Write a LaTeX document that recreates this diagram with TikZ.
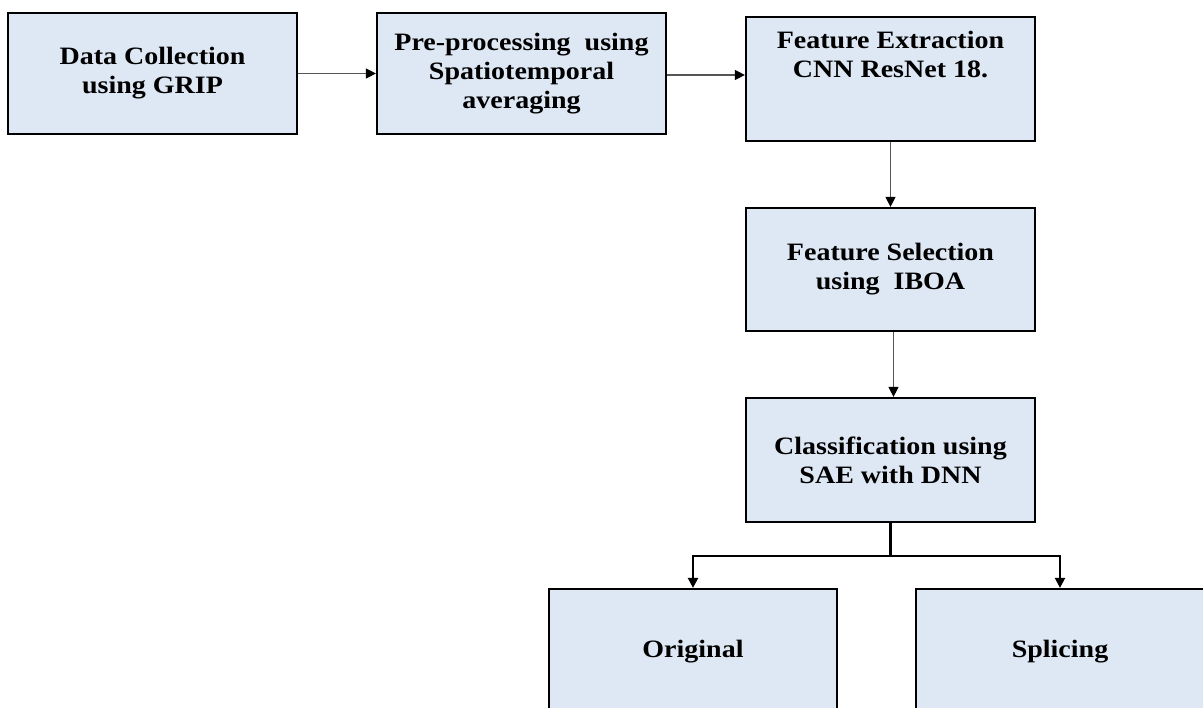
\documentclass[tikz,border=0pt]{standalone}
\usepackage{fontspec}
\setmainfont{Liberation Serif}[FakeStretch=1.12]
\usetikzlibrary{arrows.meta}
\definecolor{boxfill}{HTML}{DEE8F4}
\definecolor{thinline}{HTML}{555555}
\begin{document}
\begin{tikzpicture}[x=1pt,y=-1pt,
  txt/.style={font=\fontsize{25}{29}\selectfont\bfseries},
  box/.style={draw=black, line width=2.2pt, fill=boxfill, rectangle, align=center,
    inner sep=0pt, txt},
  thinarrow/.style={draw=thinline, line width=1.2pt, -{Triangle[length=10pt,width=10pt,fill=black,color=black]}},
  thickarrow/.style={draw=black, line width=2.2pt, -{Triangle[length=10pt,width=10pt]}}
]
\useasboundingbox (0,0) rectangle (1203,708);
\node[box, minimum width=289, minimum height=121] (b1) at (152.5,73.5) {Data Collection\\using GRIP};
\node[box, minimum width=289, minimum height=121] (b2) at (521.5,73.5) {Pre-processing \ using\\Spatiotemporal\\averaging};
\node[box, minimum width=289, minimum height=124,
  label={[anchor=north, align=center, yshift=-12pt, txt]north:Feature Extraction\\CNN ResNet 18.}] (b3) at (890.5,79) {};
\node[box, minimum width=289, minimum height=123] (b4) at (890.5,269.5) {Feature Selection\\using \ IBOA};
\node[box, minimum width=289, minimum height=124] (b5) at (890.5,460) {Classification using\\SAE with DNN};
\node[box, minimum width=288, minimum height=126] (o) at (693,652) {Original};
\node[box, minimum width=288, minimum height=126] (s) at (1060,652) {Splicing};
\coordinate (split) at (890.5,556);
\draw[thinarrow] (b1.east) -- (b2.west);
\draw[thinarrow] ([yshift=-1.5pt]b2.east) -- ([yshift=-1.5pt]b2.east -| b3.west);
\draw[thinarrow] (b3.south) -- (b4.north);
\draw[thinarrow] ([xshift=3pt]b4.south) -- ([xshift=3pt]b4.south |- b5.north);
\draw[draw=black, line width=2.2pt] (b5.south) -- (split);
\draw[thickarrow] (split) -| (o.north);
\draw[thickarrow] (split) -| (s.north);
\end{tikzpicture}
\end{document}
